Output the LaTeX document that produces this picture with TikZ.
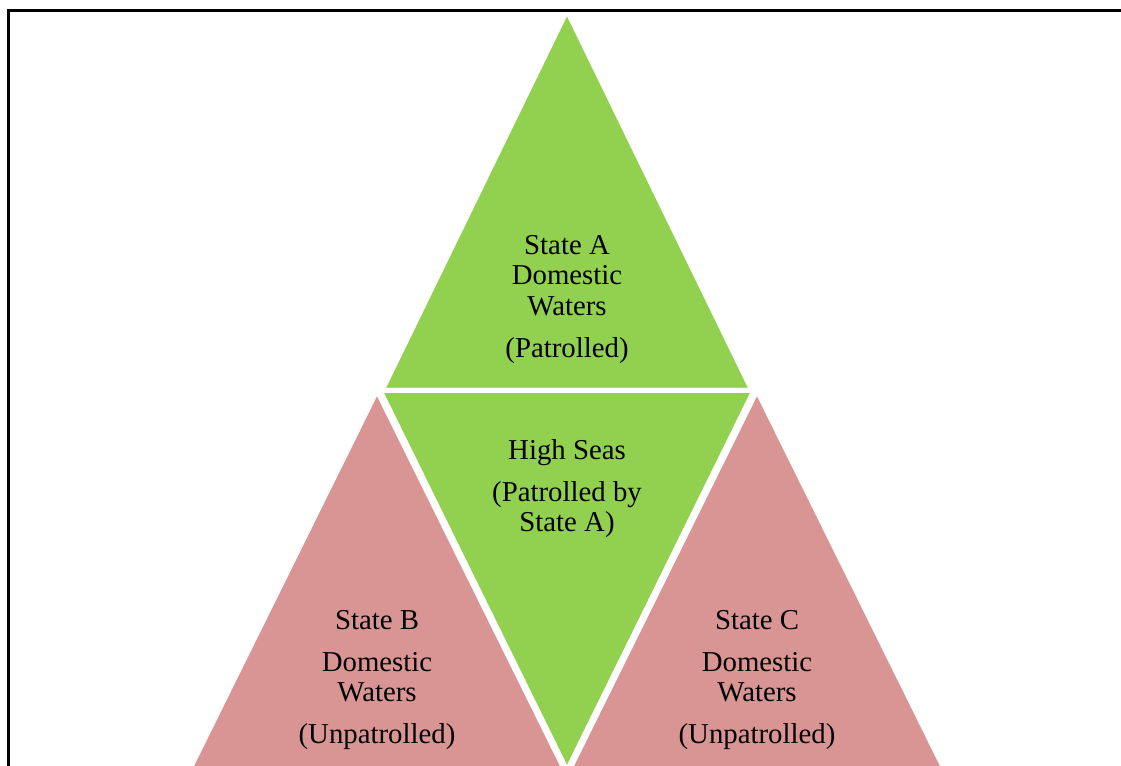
\documentclass[tikz,border=0pt]{standalone}
\usepackage{fontspec}
\setmainfont{Liberation Serif}
\definecolor{patrolgreen}{HTML}{92D050}
\definecolor{openred}{HTML}{D99594}
\begin{document}
\begin{tikzpicture}[x=.75pt,y=-.75pt, line join=miter,
	seg/.style={draw=white, line width=3.75pt},
	lbl/.style={anchor=north, inner sep=0pt, align=center, font=\fontsize{21.6}{22.9}\selectfont}]
	\useasboundingbox (0,0) rectangle (1121,766);
	\clip (0,0) rectangle (1121,766);
	% corners of the segmented pyramid
	\coordinate (apex) at (567,10.5);
	\coordinate (tl) at (382,390.5);
	\coordinate (tr) at (752,390.5);
	\coordinate (ml) at (380,390.5);
	\coordinate (mr) at (754,390.5);
	\coordinate (mb) at (567,770.5);
	\coordinate (bla) at (377,390.5);
	\coordinate (bl) at (189,770.5);
	\coordinate (blb) at (565,770.5);
	\coordinate (bra) at (757,390.5);
	\coordinate (brb) at (569,770.5);
	\coordinate (br) at (945,770.5);
	\filldraw[seg, fill=openred] (bla)--(bl)--(blb)--cycle;
	\filldraw[seg, fill=openred] (bra)--(brb)--(br)--cycle;
	\filldraw[seg, fill=patrolgreen] (apex)--(tl)--(tr)--cycle;
	\filldraw[seg, fill=patrolgreen] (ml)--(mr)--(mb)--cycle;
	\node[lbl] (stateA) at (567,235) {State A\\Domestic\\Waters\\[8.5pt](Patrolled)};
	\node[lbl] (highseas) at (567,439) {High Seas\\[8.5pt](Patrolled by\\State A)};
	\node[lbl] (stateB) at (377,610) {State B\\[8.5pt]Domestic\\Waters\\[8.5pt](Unpatrolled)};
	\node[lbl] (stateC) at (757,610) {State C\\[8.5pt]Domestic\\Waters\\[8.5pt](Unpatrolled)};
	\draw[line width=2.25pt] (8.7,10.7) rectangle (1140,790);
\end{tikzpicture}
\end{document}
